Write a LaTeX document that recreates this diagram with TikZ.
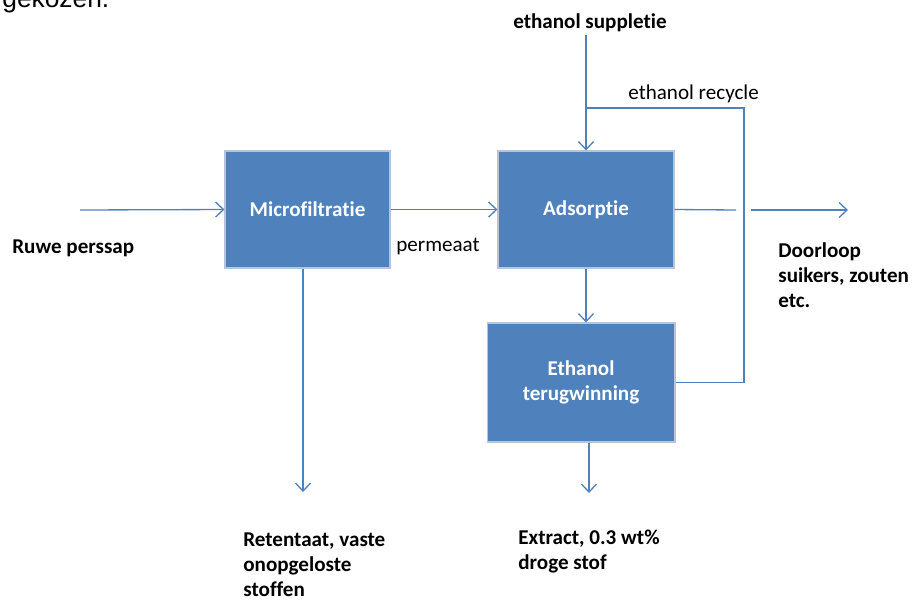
\documentclass[tikz,border=0pt]{standalone}
\usepackage{fontspec}
\setmainfont{Carlito}[Ligatures=NoCommon]
\newfontfamily\PageFont{Liberation Sans}
\usepackage{xcolor}
\definecolor{ColBlue}{RGB}{79,129,189}
\definecolor{ColEdge}{RGB}{185,196,214}
\usetikzlibrary{arrows.meta}
\newcommand{\LabelSize}{\fontsize{12}{14.2}\selectfont}
\tikzstyle{Unit}=[draw=ColEdge,fill=ColBlue,text=white,font=\LabelSize\bfseries,
    align=center,inner sep=0pt,line width=0.6pt]
\tikzstyle{Flow}=[ColBlue,draw,line width=0.75pt]
\tikzstyle{Stream}=[ColBlue,draw,line width=0.75pt,
    -{Straight Barb[length=4.5pt,width=8.5pt]}]
\tikzstyle{Label}=[inner sep=0pt,anchor=base west,align=left,font=\LabelSize]
\tikzstyle{BoldLabel}=[Label,font=\LabelSize\bfseries]

\begin{document}
\begin{tikzpicture}[x=0.02cm,y=-0.02cm]
        \useasboundingbox(0,0)rectangle(915,599);
        \node[Label,font=\PageFont\fontsize{15}{18}\selectfont](page)at(2,7){gekozen.};
        % units
        \node[Unit,minimum width=3.3cm,minimum height=2.34cm](MF)at(307.5,209.5)
            {Microfiltratie};
        \node[Unit,minimum width=3.52cm,minimum height=2.34cm](AD)at(586,209.5)
            {Adsorptie};
        \node[Unit,minimum width=3.76cm,minimum height=2.38cm](ET)at(581,382.5)
            {Ethanol\\terugwinning};
        % end points
        \coordinate(feed)at(80,210);
        \coordinate(sup)at(586,35);
        \coordinate(rc)at(744,108);
        \coordinate(gapL)at(736,210);
        \coordinate(gapR)at(751,210);
        \coordinate(out)at(848,210);
        \coordinate(ret)at(303,492);
        \coordinate(ext)at(589,493);
        % streams
        \draw[Stream](feed)--(MF.west);
        \draw[Stream](MF.east)--(AD.west);
        \draw[Stream](AD.south)--(AD.south|-ET.north);
        \draw[Flow](AD.east)--(gapL);
        \draw[Stream](gapR)--(out);
        \draw[Flow](sup)--(sup|-rc);
        \draw[Stream](ET.east)-|(rc)-|(AD.north);
        \draw[Stream](ret|-MF.south)--(ret);
        \draw[Stream](ext|-ET.south)--(ext);
        % labels
        \node[BoldLabel](feedL)at(12,253){Ruwe perssap};
        \node[Label](permL)at(396,251){permeaat};
        \node[BoldLabel](supL)at(513,28){ethanol suppletie};
        \node[Label](rcL)at(628,99){ethanol recycle};
        \node[BoldLabel](outL)at(778,307){Doorloop\\suikers, zouten\\etc.};
        \node[BoldLabel](retL)at(243,596){Retentaat, vaste\\onopgeloste\\stoffen};
        \node[BoldLabel](extL)at(518,569){Extract, 0.3 wt\%\\droge stof};
    \end{tikzpicture}
\end{document}
